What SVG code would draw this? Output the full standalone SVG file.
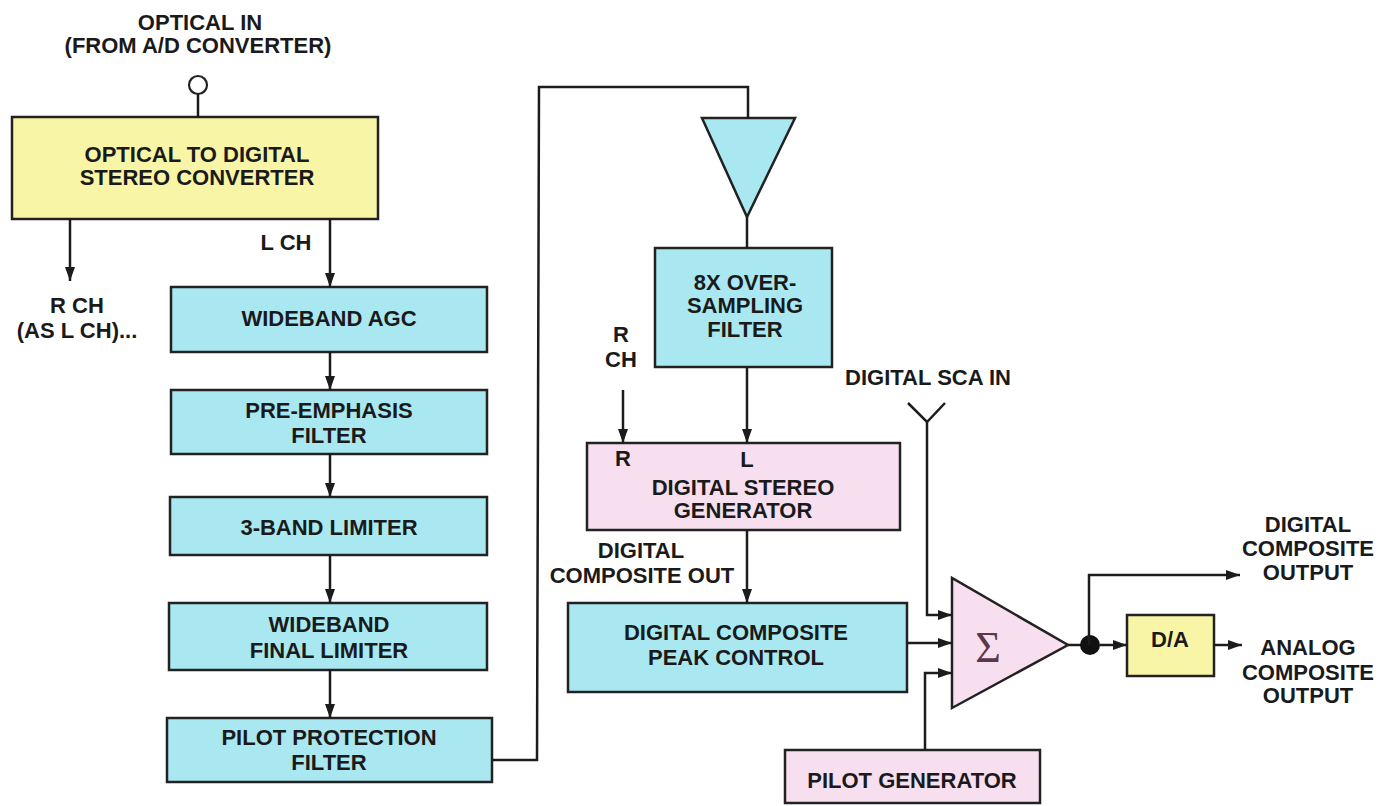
<svg xmlns="http://www.w3.org/2000/svg" width="1392" height="806" viewBox="0 0 1392 806">
<defs>
<marker id="ah" viewBox="0 0 14 10" markerWidth="14" markerHeight="10" refX="14" refY="5" orient="auto" markerUnits="userSpaceOnUse">
<path d="M0,0 L14,5 L0,10 z" fill="#1c1c1c"/>
</marker>
</defs>
<style>
.t{font-family:"Liberation Sans",Arial,sans-serif;font-weight:bold;font-size:22px;fill:#1a1a1a;text-anchor:middle}
.box{stroke:#222;stroke-width:2.5}
.cy{fill:#a9e8f1}
.yl{fill:#f8f5a6}
.pk{fill:#f7dff0}
.ln{fill:none;stroke:#1c1c1c;stroke-width:2.5}
.ar{fill:none;stroke:#1c1c1c;stroke-width:2.5;marker-end:url(#ah)}
</style>
<rect width="1392" height="806" fill="#ffffff"/>

<g id="optical-in">
<text class="t" x="200" y="30">OPTICAL IN</text>
<text class="t" x="198" y="53">(FROM A/D CONVERTER)</text>
<circle cx="198" cy="85" r="9" fill="#fff" stroke="#222" stroke-width="2.2"/>
</g>

<g id="converter">
<rect class="box yl" x="12" y="117" width="366" height="102"/>
<text class="t" x="197" y="162">OPTICAL TO DIGITAL</text>
<text class="t" x="197" y="185">STEREO CONVERTER</text>
</g>

<g id="labels">
<text class="t" x="286" y="250">L CH</text>
<text class="t" x="77" y="313">R CH</text>
<text class="t" x="77" y="338">(AS L CH)...</text>
<text class="t" x="621" y="342">R</text>
<text class="t" x="621" y="367">CH</text>
<text class="t" x="641" y="558">DIGITAL</text>
<text class="t" x="642" y="583">COMPOSITE OUT</text>
<text class="t" x="928" y="385">DIGITAL SCA IN</text>
<text class="t" x="1308" y="532">DIGITAL</text>
<text class="t" x="1308" y="556">COMPOSITE</text>
<text class="t" x="1308" y="580">OUTPUT</text>
<text class="t" x="1308" y="655">ANALOG</text>
<text class="t" x="1308" y="680">COMPOSITE</text>
<text class="t" x="1308" y="703">OUTPUT</text>
</g>

<g id="wideband-agc">
<rect class="box cy" x="171" y="287" width="316" height="65"/>
<text class="t" x="329" y="326">WIDEBAND AGC</text>
</g>
<g id="pre-emphasis">
<rect class="box cy" x="171" y="390" width="316" height="64"/>
<text class="t" x="329" y="418">PRE-EMPHASIS</text>
<text class="t" x="329" y="443">FILTER</text>
</g>
<g id="three-band">
<rect class="box cy" x="170" y="497" width="317" height="58"/>
<text class="t" x="329" y="535">3-BAND LIMITER</text>
</g>
<g id="final-limiter">
<rect class="box cy" x="169" y="603" width="318" height="67"/>
<text class="t" x="329" y="632">WIDEBAND</text>
<text class="t" x="329" y="658">FINAL LIMITER</text>
</g>
<g id="pilot-protection">
<rect class="box cy" x="167" y="718" width="325" height="64"/>
<text class="t" x="329" y="745">PILOT PROTECTION</text>
<text class="t" x="329" y="770">FILTER</text>
</g>

<g id="interp-triangle">
<polygon class="box cy" points="702,118 795,118 747,217"/>
</g>

<g id="oversampling">
<rect class="box cy" x="655" y="248" width="177" height="119"/>
<text class="t" x="745" y="290">8X OVER-</text>
<text class="t" x="745" y="313">SAMPLING</text>
<text class="t" x="745" y="337">FILTER</text>
</g>

<g id="stereo-gen">
<rect class="box pk" x="587" y="443" width="313" height="87"/>
<text class="t" x="623" y="466">R</text>
<text class="t" x="747" y="467">L</text>
<text class="t" x="743" y="495">DIGITAL STEREO</text>
<text class="t" x="743" y="518">GENERATOR</text>
</g>

<g id="peak-control">
<rect class="box cy" x="568" y="603" width="339" height="89"/>
<text class="t" x="736" y="640">DIGITAL COMPOSITE</text>
<text class="t" x="736" y="665">PEAK CONTROL</text>
</g>

<g id="summer">
<polygon class="box pk" points="952,578 952,708 1068,645"/>
<text x="988" y="662" font-family="'Liberation Serif','DejaVu Serif',serif" font-size="44" fill="#5a3848" text-anchor="middle">Σ</text>
</g>

<g id="pilot-gen">
<rect class="box pk" x="785" y="750" width="255" height="53"/>
<text class="t" x="912" y="788">PILOT GENERATOR</text>
</g>

<g id="da">
<rect class="box yl" x="1127" y="615" width="87" height="61"/>
<text class="t" x="1170" y="647" font-size="20">D/A</text>
</g>

<g id="connectors">
<line class="ln" x1="198" y1="94" x2="198" y2="117"/>
<line class="ar" x1="70" y1="219" x2="70" y2="281"/>
<line class="ar" x1="330" y1="219" x2="330" y2="287"/>
<line class="ar" x1="330" y1="352" x2="330" y2="390"/>
<line class="ar" x1="330" y1="454" x2="330" y2="497"/>
<line class="ar" x1="330" y1="555" x2="330" y2="603"/>
<line class="ar" x1="330" y1="670" x2="330" y2="718"/>
<polyline class="ln" points="492,760 537,760 539,87 748,87 748,118"/>
<line class="ln" x1="747" y1="217" x2="747" y2="248"/>
<line class="ar" x1="623" y1="390" x2="623" y2="443"/>
<line class="ar" x1="747" y1="367" x2="747" y2="443"/>
<line class="ar" x1="747" y1="530" x2="747" y2="603"/>
<polyline class="ln" points="908,403 927,422 945,403"/>
<polyline class="ar" points="927,422 927,615 952,615"/>
<line class="ar" x1="907" y1="643" x2="952" y2="643"/>
<polyline class="ar" points="925,750 925,673 952,673"/>
<line class="ln" x1="1068" y1="645" x2="1090" y2="645"/>
<circle cx="1090" cy="645" r="10" fill="#111"/>
<polyline class="ar" points="1089,645 1089,575 1240,575"/>
<line class="ar" x1="1100" y1="645" x2="1127" y2="645"/>
<line class="ar" x1="1214" y1="645" x2="1242" y2="645"/>
</g>
</svg>
